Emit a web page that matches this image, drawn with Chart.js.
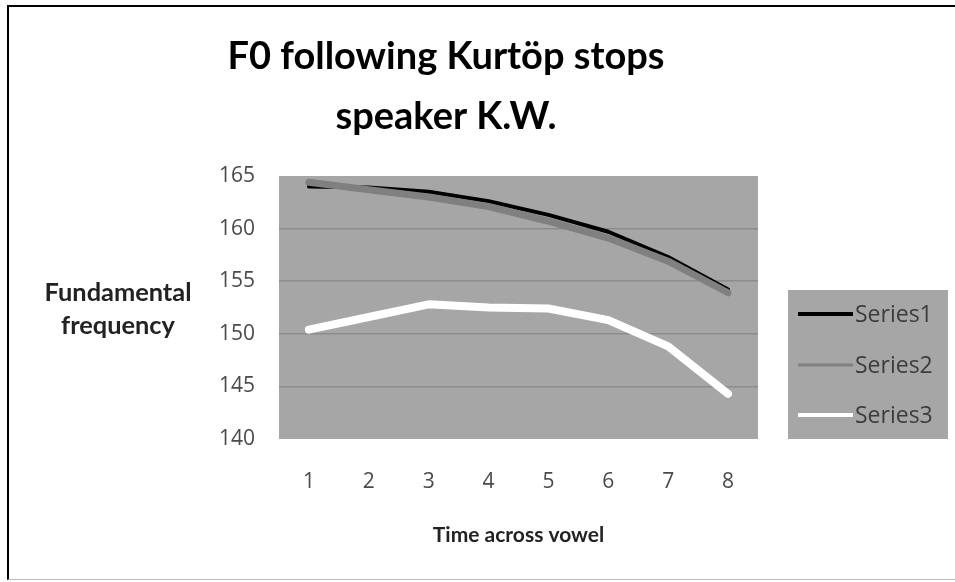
<!DOCTYPE html>
<html>
<head>
<meta charset="utf-8">
<script src="https://cdn.jsdelivr.net/npm/chart.js@4"></script>
<style>
  html, body { margin: 0; padding: 0; background: #fff; }
  #frame { position: absolute; left: 7px; top: 5px; width: 948px; height: 575px;
           border-top: 2px solid #000; border-left: 2px solid #000; border-bottom: 1px solid #bbb;
           box-sizing: border-box; }
  #chart { position: absolute; left: 0; top: 0; }
</style>
</head>
<body>
<div id="frame"></div>
<canvas id="chart" width="955" height="582"></canvas>
<script>
// DADOS
const categorias = ['1', '2', '3', '4', '5', '6', '7', '8'];
const serie1 = [164.0, 163.9, 163.5, 162.6, 161.3, 159.7, 157.3, 154.2];
const serie2 = [164.4, 163.7, 163.0, 162.1, 160.7, 159.1, 156.9, 153.9];
const serie3 = [150.4, 151.6, 152.8, 152.5, 152.4, 151.3, 148.8, 144.3];
const nomesSeries = ['Series1', 'Series2', 'Series3'];
const tituloLinhas = ['F0 following Kurtöp stops', 'speaker K.W.'];
const tituloY = ['Fundamental', 'frequency'];
const tituloX = 'Time across vowel';

const cinzaFundo = '#a6a6a6';
const corTexto = '#4a4a4a';

// fundo da área do gráfico + título + legenda desenhados à mão
const extras = {
    id: 'extras',
    beforeDraw(chart) {
        const { ctx, chartArea: a } = chart;
        ctx.save();
        ctx.fillStyle = cinzaFundo;
        ctx.fillRect(a.left, a.top, a.right - a.left, a.bottom - a.top);
        ctx.restore();
    },
    afterDraw(chart) {
        const ctx = chart.ctx;
        ctx.save();
        ctx.textAlign = 'center';
        ctx.textBaseline = 'middle';

        // título
        let size = 40;
        ctx.font = `bold ${size}px Lato`;
        size = size * 437 / ctx.measureText(tituloLinhas[0]).width;
        ctx.font = `bold ${size}px Lato`;
        ctx.fillStyle = '#000';
        ctx.fillText(tituloLinhas[0], 446, 57);
        ctx.fillText(tituloLinhas[1], 446, 117);

        // título eixo Y (horizontal)
        let sy = 20;
        ctx.font = `bold ${sy}px Lato`;
        sy = sy * 147 / ctx.measureText(tituloY[0]).width;
        ctx.font = `bold ${sy}px Lato`;
        ctx.fillStyle = '#222';
        ctx.fillText(tituloY[0], 118, 293);
        ctx.fillText(tituloY[1], 118, 326);

        // legenda
        ctx.fillStyle = cinzaFundo;
        ctx.fillRect(788, 290, 160, 149);
        const ys = [314, 365, 415];
        ctx.font = "23px 'Open Sans'";
        ctx.textAlign = 'left';
        chart.data.datasets.forEach((ds, i) => {
            ctx.strokeStyle = ds.borderColor;
            ctx.lineWidth = i === 1 ? 3 : 4;
            ctx.beginPath();
            ctx.moveTo(798, ys[i]);
            ctx.lineTo(853, ys[i]);
            ctx.stroke();
            ctx.fillStyle = '#3c3c3c';
            ctx.fillText(ds.label, 855, ys[i] + 1);
        });
        ctx.restore();
    }
};

new Chart(document.getElementById('chart'), {
    type: 'line',
    data: {
        labels: categorias,
        datasets: [
            { label: nomesSeries[0], data: serie1, borderColor: '#000000', borderWidth: 4, order: 3 },
            { label: nomesSeries[1], data: serie2, borderColor: '#808080', borderWidth: 7, order: 2 },
            { label: nomesSeries[2], data: serie3, borderColor: '#ffffff', borderWidth: 8, order: 1 }
        ]
    },
    options: {
        responsive: false,
        animation: false,
        layout: { padding: { left: 0, right: 197, top: 176, bottom: 34 } },
        elements: {
            point: { radius: 0 },
            line: { tension: 0, borderCapStyle: 'round', borderJoinStyle: 'round', fill: false }
        },
        plugins: {
            legend: { display: false },
            title: { display: false },
            tooltip: { enabled: false }
        },
        scales: {
            x: {
                offset: true,
                grid: { display: false, drawTicks: false, offset: true },
                border: { display: false },
                ticks: { color: corTexto, font: { family: 'Open Sans', size: 21 }, padding: 30 },
                title: {
                    display: true, text: tituloX, color: '#222',
                    font: { family: 'Lato', weight: 'bold', size: 21 }, padding: { top: 0, bottom: 0 }
                },
                afterFit: s => { s.height = 109; }
            },
            y: {
                min: 140, max: 165,
                ticks: { stepSize: 5, color: corTexto, font: { family: 'Open Sans', size: 21 }, padding: 24 },
                grid: {
                    drawTicks: false, lineWidth: 1.5,
                    color: c => (c.tick && (c.tick.value === 140 || c.tick.value === 165)) ? 'rgba(0,0,0,0)' : '#8c8c8c'
                },
                border: { display: false },
                afterFit: s => { s.width = 279; }
            }
        }
    },
    plugins: [extras]
});
</script>
</body>
</html>
